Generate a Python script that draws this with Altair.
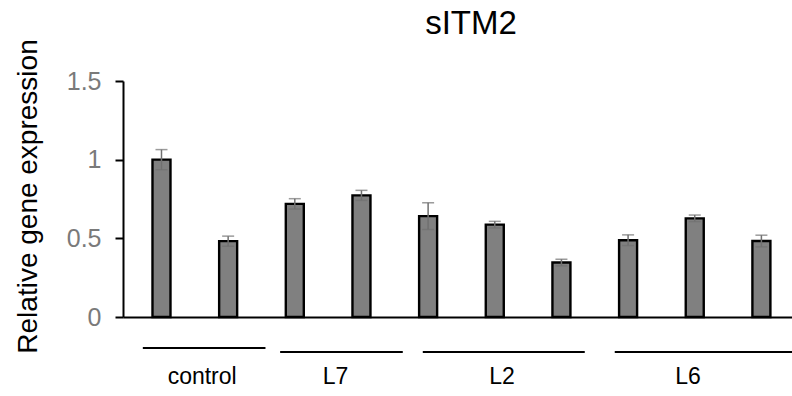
import altair as alt
import pandas as pd

# ---- data ----
positions = [1, 2, 3, 4, 5, 6, 7, 8, 9, 10]
values = [1.0, 0.482, 0.719, 0.773, 0.641, 0.587, 0.346, 0.488, 0.627, 0.483]
errors = [0.064, 0.032, 0.033, 0.032, 0.085, 0.021, 0.021, 0.034, 0.021, 0.037]

groups = ["control", "L7", "L2", "L6"]
group_start = [0.72, 2.78, 4.92, 7.80]
group_end = [2.56, 4.62, 7.35, 10.6]
group_label_pos = [1.61, 3.61, 6.11, 8.90]

FONT = "Liberation Sans"

bars_df = pd.DataFrame({"pos": positions, "val": values, "err": errors})
bars_df["lo"] = bars_df["val"] - bars_df["err"]
bars_df["hi"] = bars_df["val"] + bars_df["err"]

grp_df = pd.DataFrame({"group": groups, "start": group_start,
                       "end": group_end, "lab": group_label_pos})

xscale = alt.Scale(domain=[0.4976, 10.384], nice=False, zero=False)
yscale = alt.Scale(domain=[0, 1.5], nice=False)

xaxis = alt.Axis(title="", labels=False, ticks=False, grid=False,
                 domain=True, domainColor="black", domainWidth=2)
yaxis = alt.Axis(title="Relative gene expression", values=[0, 0.5, 1, 1.5],
                 format="~g", grid=False, domainColor="black", domainWidth=2,
                 tickColor="black", tickWidth=2, tickSize=8,
                 labelFont=FONT, labelFontSize=25, labelColor="#7a7a7a",
                 labelPadding=14,
                 titleFont=FONT, titleFontSize=28, titleFontWeight="normal",
                 titleColor="black", titleX=-87, titleY=115,
                 titleAngle=-90, titleAlign="center",
                 titleBaseline="alphabetic")

base = alt.Chart(bars_df)

bars = base.mark_bar(size=18, fill="#808080", stroke="black", strokeWidth=2.4).encode(
    x=alt.X("pos:Q", scale=xscale, axis=xaxis),
    y=alt.Y("val:Q", scale=yscale, axis=yaxis),
)

err_rule = base.mark_rule(color="#707070", strokeWidth=1.5).encode(
    x=alt.X("pos:Q", scale=xscale, axis=xaxis),
    y=alt.Y("lo:Q", scale=yscale, axis=yaxis),
    y2="hi:Q",
)
cap_hi = base.mark_tick(orient="horizontal", size=12, thickness=1.5, color="#707070").encode(
    x=alt.X("pos:Q", scale=xscale, axis=xaxis),
    y=alt.Y("hi:Q", scale=yscale, axis=yaxis),
)
cap_lo = base.mark_tick(orient="horizontal", size=12, thickness=1.5, color="#707070").encode(
    x=alt.X("pos:Q", scale=xscale, axis=xaxis),
    y=alt.Y("lo:Q", scale=yscale, axis=yaxis),
)

gbase = alt.Chart(grp_df)
line_ctrl = gbase.transform_filter(alt.datum.group == "control").mark_rule(
    color="black", strokeWidth=2).encode(
    x=alt.X("start:Q", scale=xscale, axis=xaxis), x2="end:Q", y=alt.value(267))
line_rest = gbase.transform_filter(alt.datum.group != "control").mark_rule(
    color="black", strokeWidth=2).encode(
    x=alt.X("start:Q", scale=xscale, axis=xaxis), x2="end:Q", y=alt.value(271))
labels = gbase.mark_text(font=FONT, fontSize=23, color="black", align="center",
                         baseline="alphabetic").encode(
    x=alt.X("lab:Q", scale=xscale, axis=xaxis), y=alt.value(303), text="group:N")

chart = alt.layer(bars, err_rule, cap_hi, cap_lo, line_ctrl, line_rest, labels).properties(
    width=669, height=236,
    padding={"left": 123, "top": 81, "right": 0, "bottom": 79},
    autosize=alt.AutoSizeParams(type="none"),
    title=alt.TitleParams("sITM2", font=FONT, fontSize=33, fontWeight="normal",
                          color="black", anchor="middle", frame="group",
                          dx=13.5, offset=-28, baseline="alphabetic"),
    background="white",
).configure_view(stroke=None)

chart.save("out.html", embed_options={"renderer": "svg", "actions": False})
